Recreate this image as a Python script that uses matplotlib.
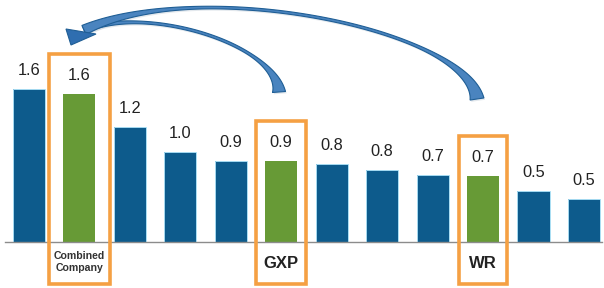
import matplotlib
matplotlib.use('Agg')
import matplotlib.pyplot as plt
import numpy as np
from matplotlib.patches import Rectangle, Polygon

plt.rcParams['font.family'] = ['Liberation Sans', 'DejaVu Sans']

# data
values = [1.60, 1.55, 1.20, 0.94, 0.85, 0.85, 0.82, 0.75, 0.70, 0.69, 0.53, 0.45]
labels = ['1.6', '1.6', '1.2', '1.0', '0.9', '0.9', '0.8', '0.8', '0.7', '0.7', '0.5', '0.5']
highlight = [1, 5, 9]
highlight_names = ['Combined\nCompany', 'GXP', 'WR']

BLUE = '#0D5B8C'; GREEN = '#679A36'; ORANGE = '#F5A043'
ARROW_FILL = '#4A84BF'; ARROW_EDGE = '#1F5E95'

W, H = 604, 288
fig = plt.figure(figsize=(W/100, H/100), dpi=100)
ax = fig.add_axes([0, 0, 1, 1])
step, x0, base, scale = 50.45, 29, 242, 95.625
ax.set_xlim(-x0/step, (W - x0)/step); ax.set_ylim(-(H - base)/scale, base/scale)
ax.axis('off')

x = np.arange(len(values))
cols = [GREEN if i in highlight else BLUE for i in x]
ax.bar(x, values, width=0.635, color=cols, zorder=2)
ax.bar([i for i in x if i not in highlight], [v for i, v in enumerate(values) if i not in highlight],
       width=0.635, color='none', edgecolor='#A8DDF3', linewidth=0.7, zorder=3)
ax.plot([-0.47, 11.35], [0, 0], color='#8c8c8c', linewidth=1.0, zorder=4)
for i, (v, s) in enumerate(zip(values, labels)):
    ax.annotate(s, (i, v), xytext=(0, 10), textcoords='offset points', ha='center', va='baseline', fontsize=11.8, color='#222222')

# orange boxes around the highlighted companies
half_w = [0.6, 0.5, 0.48]
for k, i in enumerate(highlight):
    top = values[i] + 0.42; bot = -0.44
    ax.add_patch(Rectangle((i - half_w[k], bot), 2*half_w[k], top - bot, fill=False, edgecolor=ORANGE, linewidth=2.6, zorder=5, clip_on=False))
ax.text(highlight[0], -0.21, highlight_names[0], ha='center', va='center', fontsize=7.6, fontweight='bold', color='#333333', linespacing=1.15)
ax.text(highlight[1], -0.23, highlight_names[1], ha='center', va='center', fontsize=12, fontweight='bold', color='#222222')
ax.text(highlight[2], -0.22, highlight_names[2], ha='center', va='center', fontsize=12, fontweight='bold', color='#222222')

# curved arrows, drawn in pixel space
ov = fig.add_axes([0, 0, 1, 1]); ov.set_xlim(0, W); ov.set_ylim(H, 0); ov.axis('off')

def bez(p, t):
    p0, p1, p2, p3 = [np.array(q, float) for q in p]
    t = t[:, None]
    return (1-t)**3*p0 + 3*(1-t)**2*t*p1 + 3*(1-t)*t**2*p2 + t**3*p3

def tapered(p, w_tail, w_head):
    t = np.linspace(0, 1, 200)
    c = bez(p, t)
    d = np.gradient(c, axis=0); d /= np.linalg.norm(d, axis=1)[:, None]
    n = np.stack([-d[:, 1], d[:, 0]], axis=1)
    w = np.full_like(t, 2.6)
    w += np.where(t < 0.32, (w_tail - 2.6)*(1 - t/0.32)**2, 0)
    w += np.where(t > 0.7, (w_head - 2.6)*((t - 0.7)/0.3)**2, 0)
    pts = np.vstack([c + n*w[:, None]/2, (c - n*w[:, None]/2)[::-1]])
    ov.add_patch(Polygon(pts + [1.2, 1.8], closed=True, facecolor='#c9d3dc', edgecolor='none', alpha=0.5, zorder=5.5))
    ov.add_patch(Polygon(pts, closed=True, facecolor=ARROW_FILL, edgecolor=ARROW_EDGE, linewidth=0.8, zorder=6))

tapered([(279, 92), (276, 45), (150, 5), (84, 30)], 13, 6)
tapered([(477, 99), (468, 30), (200, -25), (84, 30)], 14, 10)
ov.add_patch(Polygon([(66, 29), (96, 34), (71, 45)], closed=True, facecolor='#2F6EB0', edgecolor=ARROW_EDGE, linewidth=0.8, zorder=7))

fig.savefig('out.png', dpi=100, facecolor='white')
